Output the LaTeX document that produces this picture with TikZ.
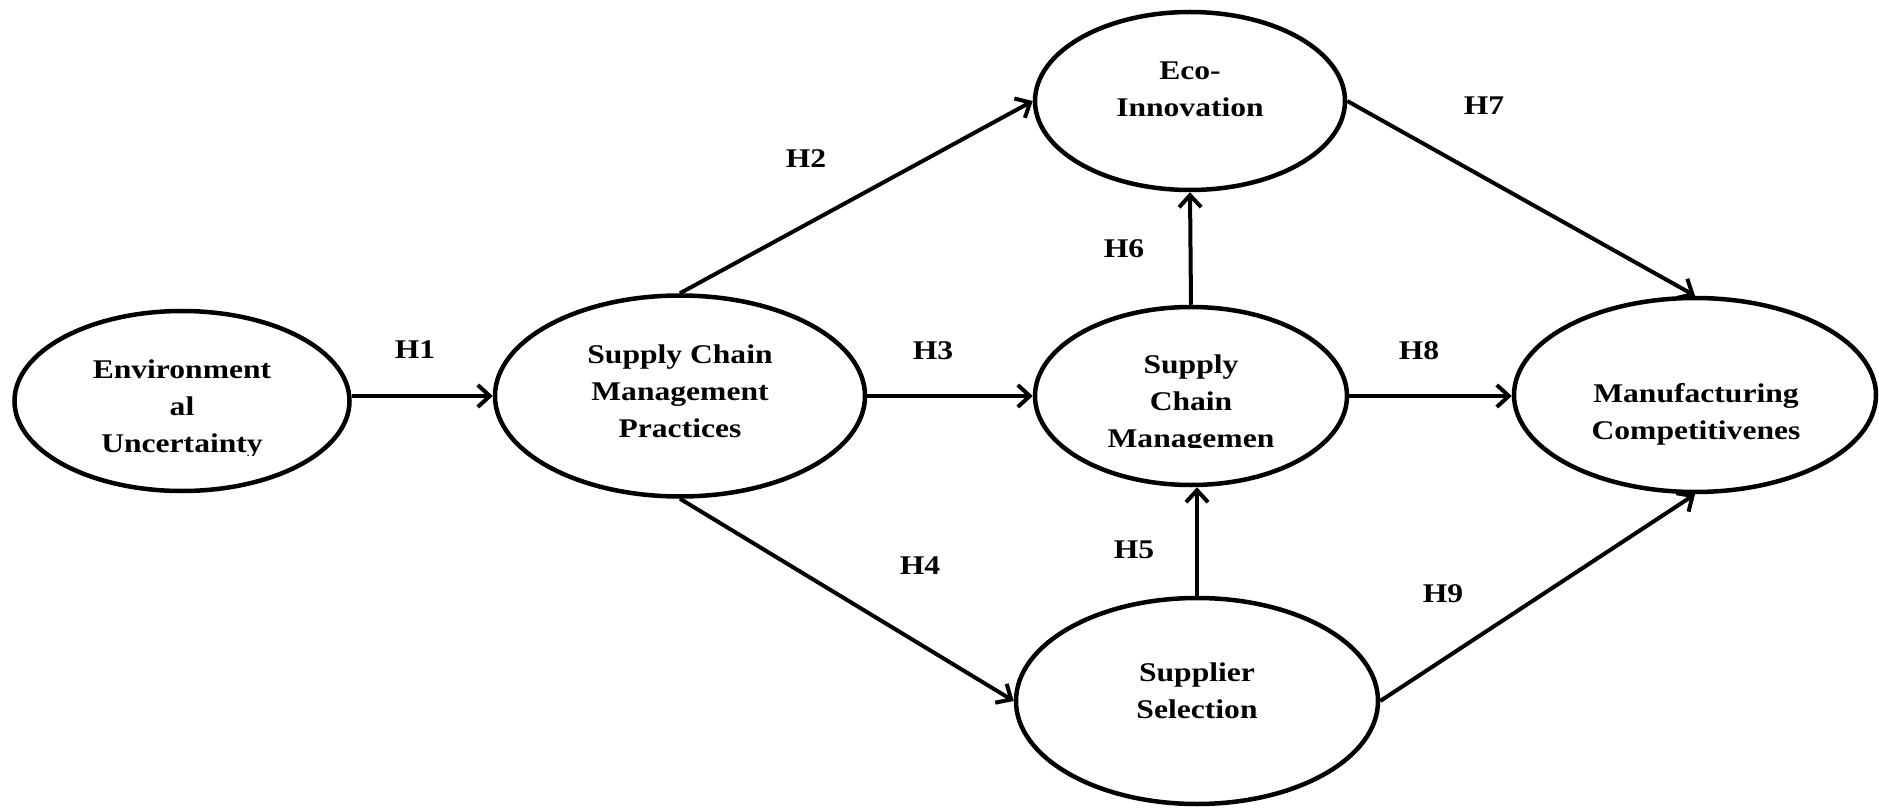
\documentclass[tikz,border=0pt]{standalone}
\usepackage{fontspec}
\setmainfont{Liberation Serif}[FakeStretch=1.17]
\usetikzlibrary{shapes.geometric,arrows.meta}

\begin{document}
\begin{tikzpicture}[x=1pt,y=-1pt,
  construct/.style={draw, ellipse, line width=4.5pt, inner sep=0pt},
  ctext/.style={align=center, font=\fontsize{27}{37}\selectfont\bfseries, inner sep=0pt},
  hyp/.style={font=\fontsize{27}{37}\selectfont\bfseries, inner sep=0pt},
  link/.style={line width=4pt, -{Straight Barb[length=12pt,width=22pt]}}
]
\useasboundingbox (0,0) rectangle (1879,810);

% constructs
\node[construct, minimum width=335pt, minimum height=180pt] (env)  at (182,401)  {};
\node[construct, minimum width=370pt, minimum height=201pt] (scmp) at (680,396)  {};
\node[construct, minimum width=310pt, minimum height=178pt] (eco)  at (1190,101) {};
\node[construct, minimum width=312pt, minimum height=178pt] (scm)  at (1191,396) {};
\node[construct, minimum width=362pt, minimum height=206pt] (ss)   at (1197,701) {};
\node[construct, minimum width=362pt, minimum height=194pt] (mc)   at (1695,395) {};

% construct names (two of them cut off below the last baseline)
\begin{scope}
  \clip (20,300) rectangle (345,455);
  \node[ctext] (envT) at (182,409) {Environment\\al\\Uncertainty};
\end{scope}
\node[ctext] (scmpT) at (680,391) {Supply Chain\\Management\\Practices};
\node[ctext] (ecoT)  at (1190,89) {Eco-\\Innovation};
\begin{scope}
  \clip (1040,300) rectangle (1340,447);
  \node[ctext] (scmT) at (1191,404) {Supply\\Chain\\Managemen};
\end{scope}
\node[ctext] (ssT) at (1197,691) {Supplier\\Selection};
\node[ctext] (mcT) at (1696,414) {Manufacturing\\Competitivenes};

% hypothesised paths
\draw[link] (env.east |- scmp.west) -- (scmp.west);
\draw[link] (scmp.north) -- (eco.west);
\draw[link] (scmp.east) -- (scm.west);
\draw[link] (scmp.south) -- (ss.west);
\draw[link] (ss.north) -- (ss.north |- scm.south);
\draw[link] (scm.north) -- (eco.south);
\draw[link] (eco.east) -- (mc.north);
\draw[link] (scm.east) -- (scm.east -| mc.west);
\draw[link] (ss.east) -- (mc.south);

% path labels
\node[hyp] (h1) at (415,350)  {H1};
\node[hyp] (h2) at (806,159)  {H2};
\node[hyp] (h3) at (933,351)  {H3};
\node[hyp] (h4) at (920,566)  {H4};
\node[hyp] (h5) at (1134,550) {H5};
\node[hyp] (h6) at (1124,249) {H6};
\node[hyp] (h7) at (1484,106) {H7};
\node[hyp] (h8) at (1419,351) {H8};
\node[hyp] (h9) at (1443,594) {H9};
\end{tikzpicture}
\end{document}
